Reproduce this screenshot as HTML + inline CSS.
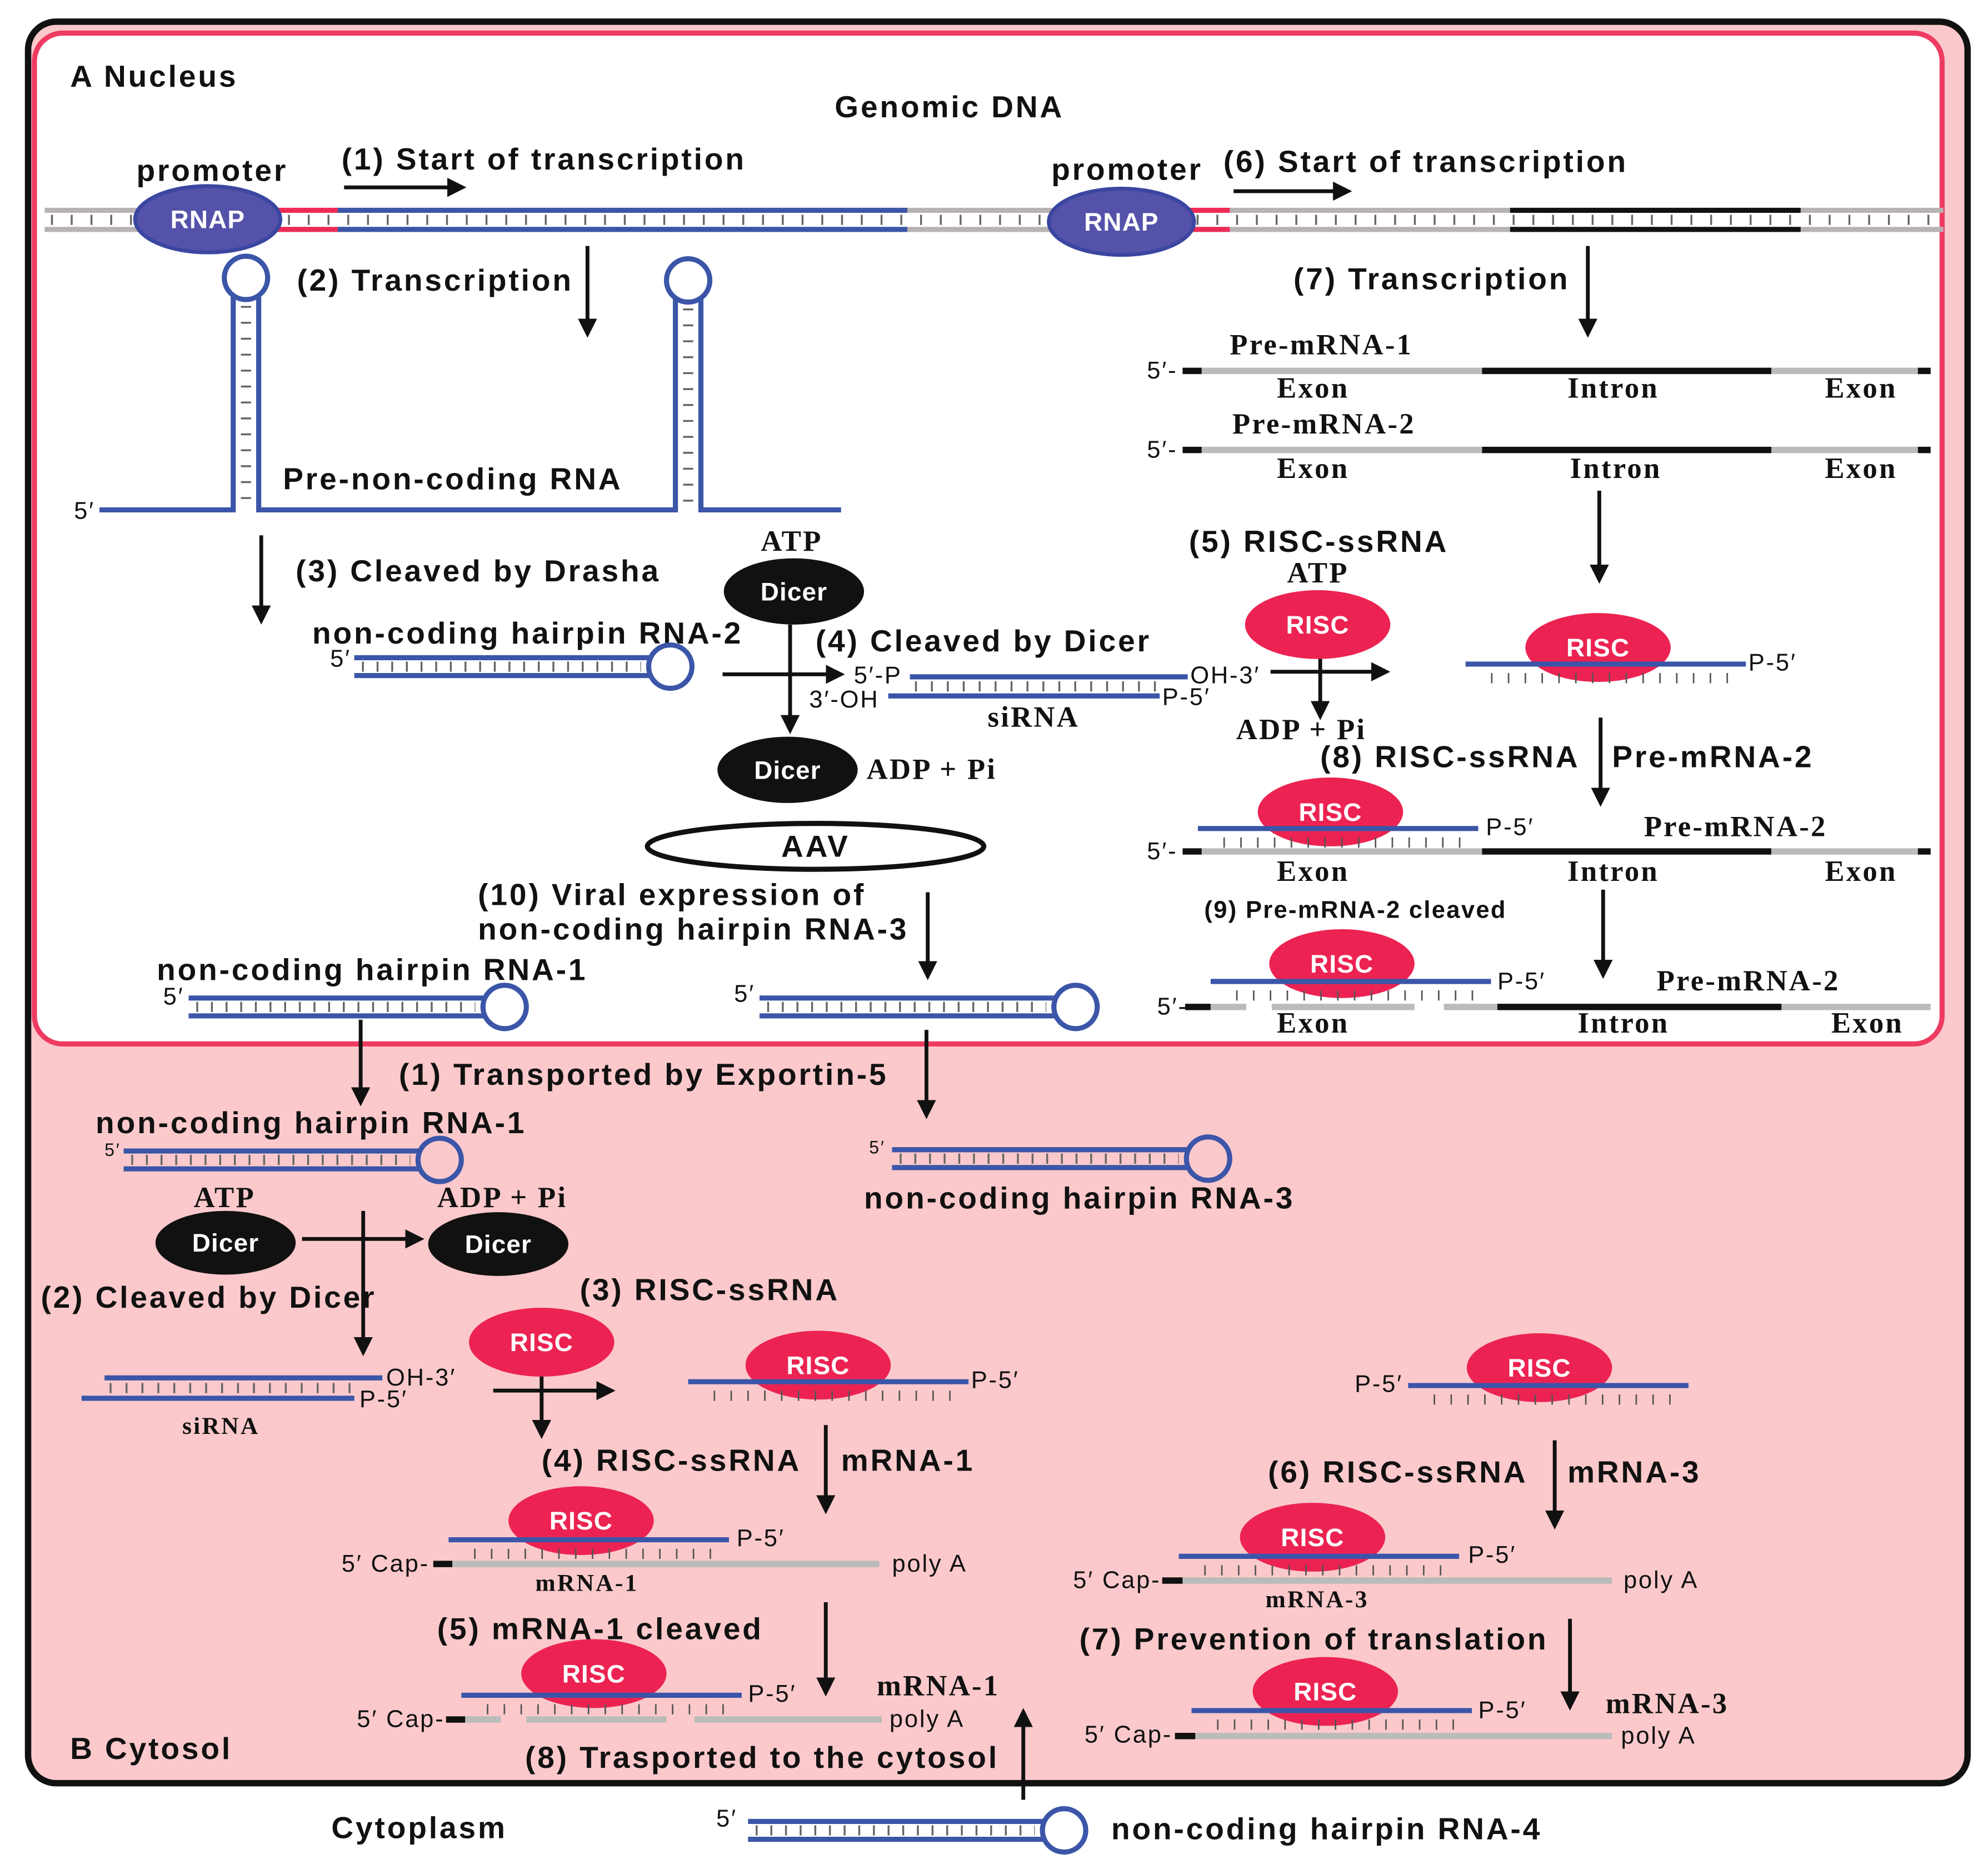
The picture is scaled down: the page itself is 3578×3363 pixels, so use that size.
<!DOCTYPE html>
<html><head><meta charset="utf-8">
<style>
html,body{margin:0;padding:0;background:#fff;}
svg{display:block;}
text{font-family:"Liberation Sans",sans-serif;font-weight:bold;font-size:24px;letter-spacing:1.7px;fill:#111;}
.s{font-family:"Liberation Serif",serif;font-size:23px;letter-spacing:1.4px;}
.n{font-family:"Liberation Sans",sans-serif;font-weight:normal;font-size:19px;letter-spacing:1.2px;}
.w{fill:#fff;font-size:20px;letter-spacing:0.5px;}
</style></head><body>
<svg width="3578" height="3363" viewBox="0 0 1560 1466.3" xmlns="http://www.w3.org/2000/svg">
<defs>
<marker id="ah" viewBox="0 0 10 10" refX="8" refY="5" markerWidth="5" markerHeight="5" orient="auto-start-reverse"><path d="M0,0L10,5L0,10z" fill="#111"/></marker>
<g id="hp">
 <line x1="0" y1="-7" x2="232" y2="-7" stroke="#3b55a8" stroke-width="4"/>
 <line x1="0" y1="7" x2="232" y2="7" stroke="#3b55a8" stroke-width="4"/>
 <line x1="6" y1="0" x2="225" y2="0" stroke="#666" stroke-width="8" stroke-dasharray="1.5 10"/>
 <circle cx="248" cy="0" r="17" fill="none" stroke="#3b55a8" stroke-width="4"/>
</g>
<g id="risc">
 <ellipse cx="0" cy="0" rx="57" ry="27" fill="#ec2352"/>
 <text x="0" y="7" text-anchor="middle" class="w">RISC</text>
</g>
<g id="strand">
 <line x1="0" y1="0" x2="220" y2="0" stroke="#3b55a8" stroke-width="4"/>
 <line x1="20" y1="11" x2="210" y2="11" stroke="#555" stroke-width="8" stroke-dasharray="1.2 12"/>
</g>
</defs>
<rect width="1560" height="1466.3" fill="#fff"/>
<rect x="22" y="17" width="1522" height="1382" rx="22" fill="#fbc9cb" stroke="#111" stroke-width="5"/>
<rect x="27" y="26" width="1497" height="793" rx="22" fill="#fff" stroke="#ef3b62" stroke-width="4"/>

<!-- DNA -->
<g stroke-width="4">
<line x1="35" y1="165" x2="1525" y2="165" stroke="#b8b3b3"/>
<line x1="35" y1="180" x2="1525" y2="180" stroke="#b8b3b3"/>
<line x1="40" y1="172.5" x2="1525" y2="172.5" stroke="#666" stroke-width="8" stroke-dasharray="1.5 14"/>
<line x1="215" y1="165" x2="265" y2="165" stroke="#ef2b55"/><line x1="215" y1="180" x2="265" y2="180" stroke="#ef2b55"/>
<line x1="265" y1="165" x2="712" y2="165" stroke="#3b55a8"/><line x1="265" y1="180" x2="712" y2="180" stroke="#3b55a8"/>
<line x1="930" y1="165" x2="965" y2="165" stroke="#ef2b55"/><line x1="930" y1="180" x2="965" y2="180" stroke="#ef2b55"/>
<line x1="1185" y1="165" x2="1413" y2="165" stroke="#111"/><line x1="1185" y1="180" x2="1413" y2="180" stroke="#111"/>
</g>
<ellipse cx="163" cy="172" rx="57" ry="26" fill="#5552aa" stroke="#3b46a0" stroke-width="3"/>
<text x="163" y="179" text-anchor="middle" class="w">RNAP</text>
<ellipse cx="880" cy="174" rx="57" ry="26" fill="#5552aa" stroke="#3b46a0" stroke-width="3"/>
<text x="880" y="181" text-anchor="middle" class="w">RNAP</text>

<text x="55" y="68">A Nucleus</text>
<text x="655" y="92">Genomic DNA</text>
<text x="107" y="142">promoter</text>
<text x="268" y="133">(1) Start of transcription</text>
<text x="825" y="141">promoter</text>
<text x="960" y="135">(6) Start of transcription</text>
<g stroke="#111" stroke-width="3" marker-end="url(#ah)">
<line x1="270" y1="147" x2="363" y2="147"/>
<line x1="968" y1="150" x2="1058" y2="150"/>
<line x1="461" y1="193" x2="461" y2="262"/>
<line x1="1246" y1="193" x2="1246" y2="262"/>
<line x1="1255" y1="385" x2="1255" y2="455"/>
<line x1="205" y1="420" x2="205" y2="487"/>
<line x1="567" y1="529" x2="660" y2="529"/>
<line x1="620" y1="490" x2="620" y2="573"/>
<line x1="997" y1="527" x2="1088" y2="527"/>
<line x1="1036" y1="515" x2="1036" y2="562"/>
<line x1="1256" y1="563" x2="1256" y2="630"/>
<line x1="1258" y1="698" x2="1258" y2="765"/>
<line x1="728" y1="700" x2="728" y2="766"/>
<line x1="283" y1="800" x2="283" y2="865"/>
<line x1="727" y1="808" x2="727" y2="875"/>
<line x1="237" y1="972" x2="330" y2="972"/>
<line x1="285" y1="950" x2="285" y2="1061"/>
<line x1="387" y1="1091" x2="480" y2="1091"/>
<line x1="425" y1="1070" x2="425" y2="1126"/>
<line x1="648" y1="1118" x2="648" y2="1185"/>
<line x1="648" y1="1257" x2="648" y2="1328"/>
<line x1="1220" y1="1130" x2="1220" y2="1197"/>
<line x1="1232" y1="1270" x2="1232" y2="1339"/>
<line x1="803" y1="1412" x2="803" y2="1343"/>
</g>
<text x="233" y="228">(2) Transcription</text>
<text x="1015" y="227">(7) Transcription</text>

<!-- pre-mRNA -->
<g stroke-width="5">
<line x1="928" y1="291" x2="943" y2="291" stroke="#111"/><line x1="943" y1="291" x2="1163" y2="291" stroke="#bbb"/><line x1="1163" y1="291" x2="1390" y2="291" stroke="#111"/><line x1="1390" y1="291" x2="1505" y2="291" stroke="#bbb"/><line x1="1505" y1="291" x2="1515" y2="291" stroke="#111"/>
<line x1="928" y1="353" x2="943" y2="353" stroke="#111"/><line x1="943" y1="353" x2="1163" y2="353" stroke="#bbb"/><line x1="1163" y1="353" x2="1390" y2="353" stroke="#111"/><line x1="1390" y1="353" x2="1505" y2="353" stroke="#bbb"/><line x1="1505" y1="353" x2="1515" y2="353" stroke="#111"/>
<line x1="928" y1="668" x2="943" y2="668" stroke="#111"/><line x1="943" y1="668" x2="1163" y2="668" stroke="#bbb"/><line x1="1163" y1="668" x2="1390" y2="668" stroke="#111"/><line x1="1390" y1="668" x2="1505" y2="668" stroke="#bbb"/><line x1="1505" y1="668" x2="1515" y2="668" stroke="#111"/>
<line x1="930" y1="790" x2="950" y2="790" stroke="#111"/><line x1="950" y1="790" x2="978" y2="790" stroke="#bbb"/><line x1="998" y1="790" x2="1110" y2="790" stroke="#bbb"/><line x1="1133" y1="790" x2="1175" y2="790" stroke="#bbb"/><line x1="1175" y1="790" x2="1398" y2="790" stroke="#111"/><line x1="1398" y1="790" x2="1515" y2="790" stroke="#bbb"/>
</g>
<text class="n" x="900" y="297">5′-</text><text class="n" x="900" y="359">5′-</text><text class="n" x="900" y="674">5′-</text><text class="n" x="908" y="796">5′-</text>
<text class="s" x="965" y="278">Pre-mRNA-1</text>
<text class="s" x="1002" y="312">Exon</text><text class="s" x="1230" y="312">Intron</text><text class="s" x="1432" y="312">Exon</text>
<text class="s" x="967" y="340">Pre-mRNA-2</text>
<text class="s" x="1002" y="375">Exon</text><text class="s" x="1232" y="375">Intron</text><text class="s" x="1432" y="375">Exon</text>
<text class="s" x="1290" y="656">Pre-mRNA-2</text>
<text class="s" x="1002" y="691">Exon</text><text class="s" x="1230" y="691">Intron</text><text class="s" x="1432" y="691">Exon</text>
<text class="s" x="1300" y="777">Pre-mRNA-2</text>
<text class="s" x="1002" y="810">Exon</text><text class="s" x="1238" y="810">Intron</text><text class="s" x="1437" y="810">Exon</text>

<!-- pre-non-coding RNA -->
<g stroke="#3b55a8" stroke-width="4" fill="none">
<path d="M78,400 H183 V232 M203,232 V400 H530 V234 M550,234 V400 H660"/>
<circle cx="193" cy="218" r="17"/><circle cx="540" cy="220" r="17"/>
</g>
<line x1="193" y1="240" x2="193" y2="395" stroke="#666" stroke-width="8" stroke-dasharray="1.5 11"/>
<line x1="540" y1="242" x2="540" y2="395" stroke="#666" stroke-width="8" stroke-dasharray="1.5 11"/>
<text class="n" x="58" y="407">5′</text>
<text x="222" y="384">Pre-non-coding RNA</text>
<text x="232" y="456">(3) Cleaved by Drasha</text>

<text class="s" x="597" y="432">ATP</text>
<ellipse cx="623" cy="464" rx="55" ry="26" fill="#111"/><text x="623" y="471" text-anchor="middle" class="w">Dicer</text>
<text x="245" y="505">non-coding hairpin RNA-2</text>
<use href="#hp" x="278" y="523"/><text class="n" x="259" y="523">5′</text>
<text x="640" y="511">(4) Cleaved by Dicer</text>
<line x1="714" y1="531" x2="932" y2="531" stroke="#3b55a8" stroke-width="4"/>
<line x1="697" y1="546" x2="910" y2="546" stroke="#3b55a8" stroke-width="4"/>
<line x1="718" y1="538.5" x2="908" y2="538.5" stroke="#666" stroke-width="8" stroke-dasharray="1.5 11"/>
<text class="n" x="670" y="536">5′-P</text><text class="n" x="934" y="536">OH-3′</text>
<text class="n" x="635" y="555">3′-OH</text><text class="n" x="912" y="553">P-5′</text>
<text class="s" x="775" y="570">siRNA</text>
<ellipse cx="618" cy="604" rx="55" ry="26" fill="#111"/><text x="618" y="611" text-anchor="middle" class="w">Dicer</text>
<text class="s" x="680" y="611">ADP + Pi</text>
<ellipse cx="640" cy="664" rx="132" ry="18" fill="#fff" stroke="#111" stroke-width="4"/>
<text x="640" y="672" text-anchor="middle">AAV</text>

<text x="933" y="433">(5) RISC-ssRNA</text>
<text class="s" x="1010" y="457">ATP</text>
<use href="#risc" x="1034" y="490"/>
<text class="s" x="970" y="580">ADP + Pi</text>
<use href="#risc" x="1254" y="508"/><use href="#strand" x="1150" y="521"/><text class="n" x="1372" y="526">P-5′</text>
<text x="1036" y="602">(8) RISC-ssRNA</text><text x="1265" y="602">Pre-mRNA-2</text>
<use href="#risc" x="1044" y="637"/><use href="#strand" x="940" y="650"/><text class="n" x="1166" y="655">P-5′</text>
<text x="945" y="720" style="font-size:19px;letter-spacing:1px">(9) Pre-mRNA-2 cleaved</text>
<use href="#risc" x="1053" y="756"/><use href="#strand" x="950" y="770"/><text class="n" x="1175" y="776">P-5′</text>

<text x="375" y="710">(10) Viral expression of</text>
<text x="375" y="737">non-coding hairpin RNA-3</text>
<text x="123" y="769">non-coding hairpin RNA-1</text>
<use href="#hp" x="148" y="790"/><text class="n" x="128" y="788">5′</text>
<use href="#hp" x="596" y="790"/><text class="n" x="576" y="786">5′</text>

<!-- cytosol -->
<text x="313" y="851">(1) Transported by Exportin-5</text>
<text x="75" y="889">non-coding hairpin RNA-1</text>
<use href="#hp" x="97" y="910"/><text class="n" x="82" y="907" style="font-size:14px">5′</text>
<use href="#hp" x="700" y="909"/><text class="n" x="682" y="905" style="font-size:14px">5′</text>
<text x="678" y="948">non-coding hairpin RNA-3</text>
<text class="s" x="152" y="947">ATP</text><text class="s" x="343" y="947">ADP + Pi</text>
<ellipse cx="177" cy="975" rx="55" ry="25" fill="#111"/><text x="177" y="982" text-anchor="middle" class="w">Dicer</text>
<ellipse cx="391" cy="976" rx="55" ry="25" fill="#111"/><text x="391" y="983" text-anchor="middle" class="w">Dicer</text>
<text x="32" y="1026">(2) Cleaved by Dicer</text>
<line x1="82" y1="1081" x2="300" y2="1081" stroke="#3b55a8" stroke-width="4"/>
<line x1="64" y1="1097" x2="278" y2="1097" stroke="#3b55a8" stroke-width="4"/>
<line x1="86" y1="1089" x2="276" y2="1089" stroke="#666" stroke-width="8" stroke-dasharray="1.5 11"/>
<text class="n" x="303" y="1087">OH-3′</text><text class="n" x="282" y="1104">P-5′</text>
<text class="s" x="143" y="1125" style="font-size:19px">siRNA</text>
<text x="455" y="1020">(3) RISC-ssRNA</text>
<use href="#risc" x="425" y="1053"/>
<use href="#risc" x="642" y="1071"/><use href="#strand" x="540" y="1084"/><text class="n" x="762" y="1089">P-5′</text>
<text x="425" y="1154">(4) RISC-ssRNA</text><text x="660" y="1154">mRNA-1</text>
<use href="#risc" x="456" y="1193"/>
<line x1="340" y1="1227" x2="355" y2="1227" stroke="#111" stroke-width="5"/><line x1="355" y1="1227" x2="690" y2="1227" stroke="#bbb" stroke-width="5"/>
<use href="#strand" x="352" y="1208"/><text class="n" x="578" y="1213">P-5′</text>
<text class="n" x="268" y="1233">5′ Cap-</text><text class="n" x="700" y="1233">poly A</text>
<text class="s" x="420" y="1248" style="font-size:19px">mRNA-1</text>
<text x="343" y="1286">(5) mRNA-1 cleaved</text>
<use href="#risc" x="466" y="1313"/>
<g stroke="#bbb" stroke-width="5"><line x1="365" y1="1349" x2="393" y2="1349"/><line x1="413" y1="1349" x2="523" y2="1349"/><line x1="545" y1="1349" x2="692" y2="1349"/></g>
<line x1="350" y1="1349" x2="365" y2="1349" stroke="#111" stroke-width="5"/>
<use href="#strand" x="362" y="1330"/><text class="n" x="587" y="1335">P-5′</text>
<text class="n" x="280" y="1355">5′ Cap-</text><text class="s" x="688" y="1330">mRNA-1</text><text class="n" x="698" y="1355">poly A</text>

<use href="#risc" x="1208" y="1073"/><use href="#strand" x="1105" y="1087"/><text class="n" x="1063" y="1092">P-5′</text>
<text x="995" y="1163">(6) RISC-ssRNA</text><text x="1230" y="1163">mRNA-3</text>
<use href="#risc" x="1030" y="1206"/>
<line x1="912" y1="1240" x2="928" y2="1240" stroke="#111" stroke-width="5"/><line x1="928" y1="1240" x2="1265" y2="1240" stroke="#bbb" stroke-width="5"/>
<use href="#strand" x="925" y="1221"/><text class="n" x="1152" y="1226">P-5′</text>
<text class="n" x="842" y="1246">5′ Cap-</text><text class="n" x="1274" y="1246">poly A</text>
<text class="s" x="993" y="1261" style="font-size:19px">mRNA-3</text>
<text x="847" y="1294">(7) Prevention of translation</text>
<use href="#risc" x="1040" y="1327"/>
<line x1="922" y1="1362" x2="938" y2="1362" stroke="#111" stroke-width="5"/><line x1="938" y1="1362" x2="1265" y2="1362" stroke="#bbb" stroke-width="5"/>
<use href="#strand" x="935" y="1342"/><text class="n" x="1160" y="1348">P-5′</text>
<text class="n" x="851" y="1367">5′ Cap-</text><text class="s" x="1260" y="1344">mRNA-3</text><text class="n" x="1272" y="1368">poly A</text>

<text x="55" y="1380">B Cytosol</text>
<text x="412" y="1387">(8) Trasported to the cytosol</text>
<text x="260" y="1442">Cytoplasm</text>
<use href="#hp" x="587" y="1436"/><text class="n" x="562" y="1433">5′</text>
<text x="872" y="1443">non-coding hairpin RNA-4</text>
</svg>
</body></html>
